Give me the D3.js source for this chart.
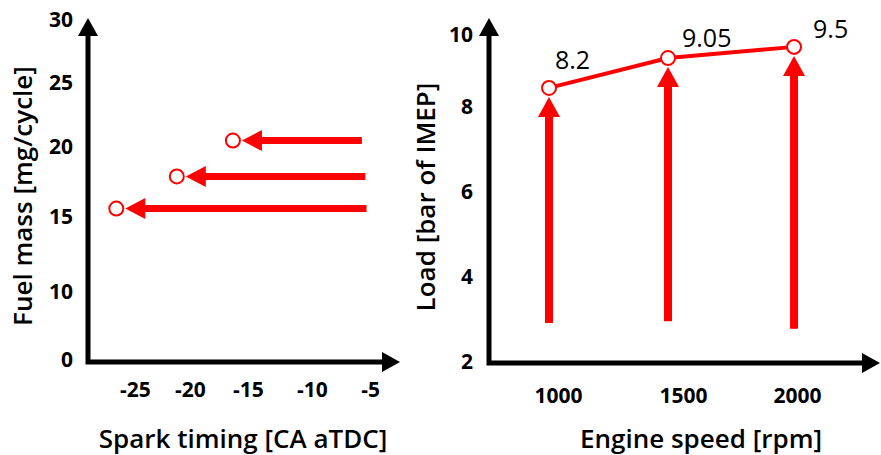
<!DOCTYPE html>
<html>
<head>
<meta charset="utf-8">
<script src="https://cdn.jsdelivr.net/npm/d3@7"></script>
<style>
  body { margin: 0; background: #fff; }
  svg { display: block; font-family: "Open Sans", sans-serif; }
</style>
</head>
<body>
<svg width="881" height="455"></svg>
<script>
// tick labels of the two schematic axes
const fuelTicks = [0, 10, 15, 20, 25, 30];
const timingTicks = [-25, -20, -15, -10, -5];
const loadTicks = [2, 4, 6, 8, 10];
const speedTicks = [1000, 1500, 2000];

// left panel: spark timing sweep (arrow start -> end point)
const fuelMass = [20.5, 17.9, 15.6];
const timingStart = [-5.7, -5.4, -5.3];
const timingEnd = [-16.3, -21.2, -26.7];

// right panel: load sweep at three engine speeds
const engineSpeed = [964, 1440, 1987];
const loadStart = [2.92, 2.96, 2.78];
const loadEnd = [8.53, 9.36, 9.67];
const loadLabels = ["8.2", "9.05", "9.5"];

const svg = d3.select("svg");
const red = "#ff0000";

// the drawn axes are not evenly spaced, so the scales are piecewise
const xL = d3.scaleLinear().domain(timingTicks).range([135, 190, 248, 312, 370]);
const yL = d3.scaleLinear().domain(fuelTicks).range([360, 292, 217, 147, 83, 20]);
const xR = d3.scaleLinear().domain(speedTicks).range([558, 683, 797]);
const yR = d3.scaleLinear().domain(loadTicks).range([362, 277, 192, 107, 35]);

function drawAxes(x0, yBase, yTop, xRight) {
    svg.append("path")
        .attr("d", `M${x0},${yTop + 12}V${yBase}H${xRight - 12}`)
        .attr("fill", "none")
        .attr("stroke", "black")
        .attr("stroke-width", 5);
    svg.append("path")
        .attr("d", `M${x0 - 10},${yTop + 18}L${x0},${yTop}L${x0 + 10},${yTop + 18}Z`);
    svg.append("path")
        .attr("d", `M${xRight - 18},${yBase - 10}L${xRight},${yBase}L${xRight - 18},${yBase + 10}Z`);
}

function styleTicks(g) {
    g.select(".domain").remove();
    g.selectAll("text")
        .attr("font-size", 21)
        .attr("font-weight", "bold")
        .attr("font-family", "'Open Sans', sans-serif")
        .attr("fill", "black");
}

function title(x, y, rot, txt) {
    svg.append("text")
        .attr("transform", `translate(${x},${y}) rotate(${rot})`)
        .attr("text-anchor", "middle")
        .attr("font-size", 26)
        .attr("font-weight", 600)
        .text(txt);
}

const fmt = (d) => String(d);

// ---- left panel
drawAxes(88, 362, 18, 400);
svg.append("g").attr("transform", "translate(88,0)")
    .call(d3.axisLeft(yL).tickValues(fuelTicks).tickFormat(fmt).tickSize(0).tickPadding(15))
    .call(styleTicks);
svg.append("g").attr("transform", "translate(0,362)")
    .call(d3.axisBottom(xL).tickValues(timingTicks).tickFormat(fmt).tickSize(0).tickPadding(20))
    .call(styleTicks);

title(32, 196, -90, "Fuel mass [mg/cycle]");
title(243, 448, 0, "Spark timing [CA aTDC]");

const r = 7, head = 20, hw = 10.5;
fuelMass.forEach((f, i) => {
    const y = yL(f);
    const xs = xL(timingStart[i]);
    const xe = xL(timingEnd[i]);
    const tip = xe + r + 2;
    svg.append("line")
        .attr("x1", xs).attr("x2", tip + head - 2)
        .attr("y1", y).attr("y2", y)
        .attr("stroke", red).attr("stroke-width", 7);
    svg.append("path")
        .attr("d", `M${tip},${y}L${tip + head},${y - hw}L${tip + head},${y + hw}Z`)
        .attr("fill", red);
    svg.append("circle")
        .attr("cx", xe).attr("cy", y).attr("r", r)
        .attr("fill", "white").attr("stroke", red).attr("stroke-width", 2);
});

// ---- right panel
drawAxes(489, 363, 18, 880);
svg.append("g").attr("transform", "translate(489,0)")
    .call(d3.axisLeft(yR).tickValues(loadTicks).tickFormat(fmt).tickSize(0).tickPadding(16))
    .call(styleTicks);
svg.append("g").attr("transform", "translate(0,363)")
    .call(d3.axisBottom(xR).tickValues(speedTicks).tickFormat(fmt).tickSize(0).tickPadding(25))
    .call(styleTicks);

title(435, 197, -90, "Load [bar of IMEP]");
title(701, 448, 0, "Engine speed [rpm]");

engineSpeed.forEach((s, i) => {
    const x = xR(s);
    const ye = yR(loadEnd[i]);
    const tip = ye + r + 2;
    svg.append("line")
        .attr("x1", x).attr("x2", x)
        .attr("y1", yR(loadStart[i])).attr("y2", tip + head - 2)
        .attr("stroke", red).attr("stroke-width", 8);
    svg.append("path")
        .attr("d", `M${x},${tip}L${x - 11},${tip + head}L${x + 11},${tip + head}Z`)
        .attr("fill", red);
});

const line = d3.line()
    .x((d, i) => xR(engineSpeed[i]))
    .y((d) => yR(d));
svg.append("path")
    .attr("d", line(loadEnd))
    .attr("fill", "none")
    .attr("stroke", red)
    .attr("stroke-width", 4);

const labelNudge = [[6, -19], [14, -11], [19, -9]];
loadEnd.forEach((v, i) => {
    const x = xR(engineSpeed[i]);
    const y = yR(v);
    svg.append("circle")
        .attr("cx", x).attr("cy", y).attr("r", r)
        .attr("fill", "white").attr("stroke", red).attr("stroke-width", 2);
    svg.append("text")
        .attr("x", x + labelNudge[i][0])
        .attr("y", y + labelNudge[i][1])
        .attr("font-size", 25)
        .attr("font-weight", 500)
        .text(loadLabels[i]);
});
</script>
</body>
</html>
